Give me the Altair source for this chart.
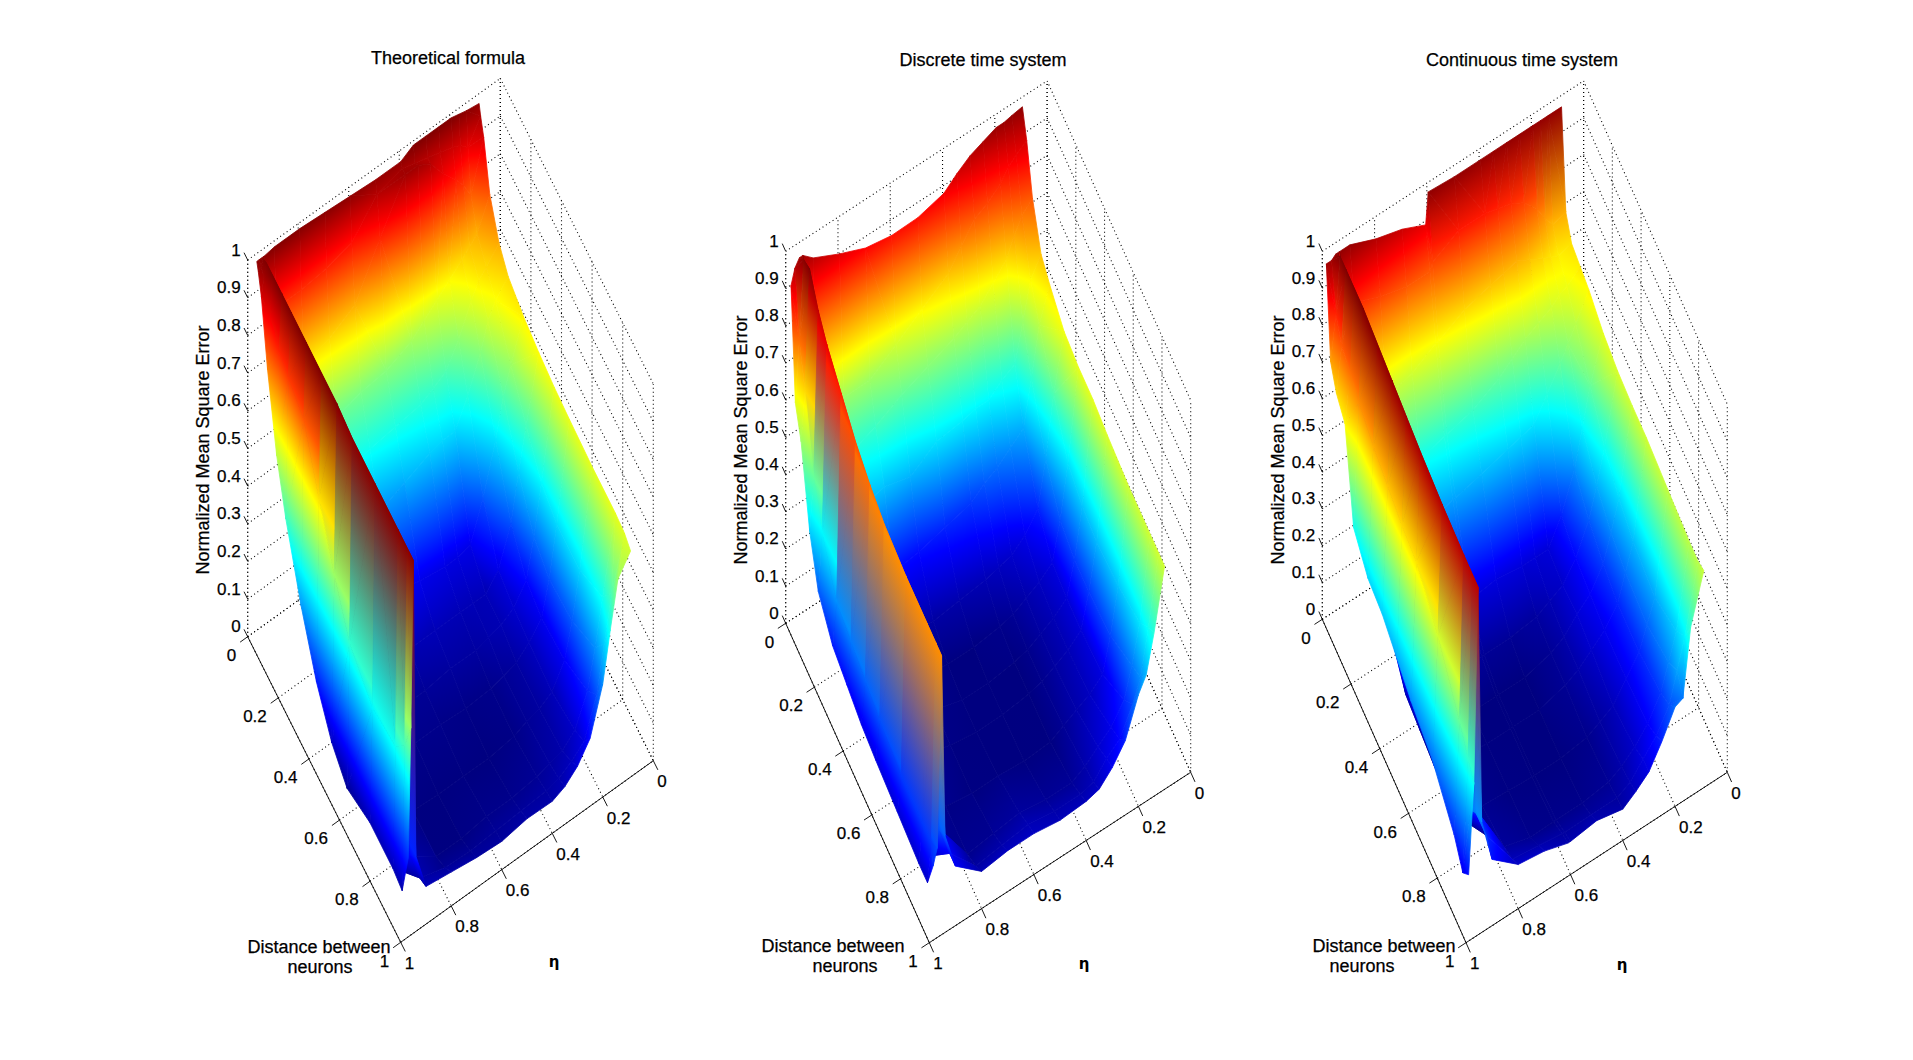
# Three 3D surfaces (jet coloured) projected by hand, since Vega-Lite has no surface mark
import numpy as np
import pandas as pd
import altair as alt

# each table has one list per eta column, with one value per distance row
theory_dist = [.01, .02, .04, .08, .14, .2, .3, .4, .5, .6, .75, .9, .96, 1]
theory_eta = [.09, .14, .17, .2, .25, .3, .35, .4, .5, .6, .7, .8, .9, .94, .95, .96, .97]
theory_z = [
    [.985, .96, .92, .8, .72, .68, .655, .64, .63, .625, .62, .62, .615, .6],
    [.99, .9, .79, .72, .68, .64, .55, .47, .4, .37, .37, .42, .48, .55],
    [.995, .92, .83, .7, .66, .6, .48, .36, .27, .24, .25, .3, .36, .43],
    [1, .93, .86, .68, .62, .53, .38, .24, .17, .15, .16, .2, .24, .3],
    [1, .94, .9, .65, .54, .44, .25, .14, .12, .11, .1, .12, .14, .18],
    [1, .95, .95, .62, .48, .37, .15, .1, .1, .08, .08, .09, .11, .13],
    [1, .96, .97, .59, .46, .37, .14, .1, .09, .07, .07, .08, .09, .1],
    [.98, .97, .97, .56, .44, .36, .14, .1, .08, .06, .055, .07, .08, .085],
    [.98, .95, .85, .53, .43, .33, .15, .1, .08, .055, .045, .06, .075, .087],
    [.985, .87, .72, .52, .42, .3, .17, .1, .07, .06, .045, .06, .07, .075],
    [.99, .85, .68, .5, .4, .3, .18, .1, .07, .06, .045, .05, .065, .08],
    [.995, .84, .66, .48, .38, .3, .18, .1, .07, .06, .05, .05, .07, .09],
    [.995, .84, .64, .46, .36, .28, .17, .11, .08, .07, .06, .1, .09, .1],
    [.99, .84, .7, .58, .45, .35, .22, .13, .09, .08, .07, .08, .17, .2],
    [.99, .995, 1, 1, 1, 1, 1, 1, 1, .99, .99, .99, .99, .99],
    [.99, .98, .97, .9, .85, .83, .8, .67, .55, .45, .4, .42, .47, .55],
    [.99, .97, .92, .76, .58, .46, .31, .19, .11, .07, .1, .1, .09, .21],
]

dist = [.01, .04, .08, .14, .2, .3, .4, .5, .6, .75, .9, .96, 1]

discrete_eta = [.1, .14, .17, .2, .25, .3, .35, .4, .5, .6, .7, .8, .9, .94, .953, .97, .985]
discrete_z = [
    [.985, .92, .8, .7, .67, .63, .62, .62, .61, .6, .6, .6, .6],
    [.98, .9, .77, .65, .58, .48, .38, .35, .34, .35, .38, .42, .44],
    [.975, .88, .73, .55, .45, .32, .24, .22, .22, .23, .28, .3, .34],
    [.975, .85, .68, .45, .33, .2, .14, .13, .13, .14, .2, .24, .3],
    [.96, .82, .64, .43, .3, .15, .11, .1, .1, .11, .15, .17, .2],
    [.945, .8, .6, .4, .27, .12, .09, .08, .08, .09, .12, .14, .15],
    [.92, .75, .58, .4, .25, .11, .07, .06, .06, .07, .09, .1, .115],
    [.89, .7, .56, .39, .22, .1, .06, .05, .05, .05, .07, .09, .105],
    [.87, .65, .53, .38, .2, .09, .05, .04, .04, .045, .07, .09, .1],
    [.868, .6, .5, .33, .18, .08, .05, .04, .04, .05, .08, .1, .11],
    [.88, .55, .46, .35, .17, .09, .06, .06, .05, .05, .07, .09, .11],
    [.91, .55, .43, .33, .18, .1, .07, .07, .07, .06, .06, .08, .1],
    [.945, .55, .4, .3, .18, .11, .08, .08, .08, .07, .17, .16, .16],
    [.97, .55, .4, .28, .17, .11, .09, .09, .09, .08, .12, .24, .26],
    [.97, .99, 1, .94, .9, .855, .81, .78, .76, .75, .75, .75, .75],
    [.95, .78, .68, .5, .4, .3, .28, .26, .24, .22, .22, .22, .24],
    [.91, .62, .55, .36, .25, .19, .17, .15, .14, .13, .12, .12, .2],
]

continuous_eta = [.09, .14, .17, .2, .25, .3, .35, .4, .5, .6, .61, .7, .8, .9, .94, .954, .97, .99]
continuous_z = [
    [.98, .72, .67, .66, .65, .62, .605, .6, .6, .59, .58, .58, .59],
    [.98, .71, .66, .63, .58, .5, .42, .37, .34, .32, .36, .4, .46],
    [.98, .74, .67, .62, .54, .4, .33, .29, .27, .26, .29, .32, .28],
    [.98, .78, .68, .6, .5, .3, .25, .22, .2, .2, .22, .24, .27],
    [.98, .82, .7, .58, .44, .2, .17, .16, .15, .15, .16, .18, .2],
    [.98, .84, .72, .56, .38, .13, .12, .13, .12, .1, .12, .14, .14],
    [.98, .85, .71, .53, .37, .13, .1, .09, .09, .08, .09, .1, .11],
    [.98, .86, .7, .5, .36, .13, .08, .07, .07, .06, .07, .08, .085],
    [.98, .86, .68, .46, .34, .14, .07, .05, .05, .05, .06, .08, .1],
    [.985, .82, .64, .44, .32, .13, .07, .05, .05, .05, .06, .08, .09],
    [.9, .8, .64, .44, .32, .13, .07, .05, .05, .05, .06, .08, .09],
    [.93, .8, .6, .42, .3, .14, .08, .05, .05, .055, .06, .09, .11],
    [.95, .82, .58, .42, .3, .15, .09, .06, .06, .06, .08, .1, .12],
    [.98, .85, .58, .42, .3, .17, .1, .09, .08, .08, .22, .21, .18],
    [.98, .9, .62, .44, .3, .28, .25, .21, .2, .14, .25, .29, .3],
    [.98, 1, 1, 1, 1, .99, .98, .97, .96, .95, .945, .945, .945],
    [.97, .85, .8, .78, .75, .72, .7, .68, .67, .6, .5, .45, .42],
    [.97, .73, .68, .65, .42, .37, .36, .33, .3, .27, .2, .15, .18],
]

z_ticks = [0, .1, .2, .3, .4, .5, .6, .7, .8, .9, 1]
xy_ticks = [0, .2, .4, .6, .8, 1]
tick_names = ["0", "0.2", "0.4", "0.6", "0.8", "1"]
z_names = ["0", "0.1", "0.2", "0.3", "0.4", "0.5", "0.6", "0.7", "0.8", "0.9", "1"]

# colour axis runs from the surface minimum to 1
color_min = .05
jet_knots = [0, .125, .375, .625, .875, 1]
jet_rgb = [(0, 0, 128), (0, 0, 255), (0, 255, 255), (255, 255, 0), (255, 0, 0), (128, 0, 0)]

# left corner (eta=1,d=0), bottom corner (eta=1,d=1), right corner (eta=0,d=1), height of z=1
panels = [
    dict(title="Theoretical formula", title_at=(448, 59), left=(247.7, 636.7), bottom=(400.7, 942.3),
         right=(653.3, 760.7), h=376.7, eta=theory_eta, dist=theory_dist, z=theory_z, ridge=14, wall=0,
         ylab=(204, 450), dist_at=[(319, 948), (320, 968)], eta_at=(554, 962)),
    dict(title="Discrete time system", title_at=(983, 61), left=(785.7, 623.3), bottom=(929.3, 942.7),
         right=(1190.7, 772.3), h=372, eta=discrete_eta, dist=dist, z=discrete_z, ridge=14, wall=0,
         ylab=(742, 440), dist_at=[(833, 947), (845, 967)], eta_at=(1084, 964)),
    dict(title="Continuous time system", title_at=(1522, 61), left=(1322.3, 619.3), bottom=(1466, 942.7),
         right=(1727.3, 772.3), h=368, eta=continuous_eta, dist=dist, z=continuous_z, ridge=15, wall=9,
         ylab=(1279, 440), dist_at=[(1384, 947), (1362, 967)], eta_at=(1622, 965)),
]

x_scale = alt.Scale(domain=[8, 1905])
y_scale = alt.Scale(domain=[1052, 8])
x_enc = alt.X("x:Q", scale=x_scale, axis=None)
y_enc = alt.Y("y:Q", scale=y_scale, axis=None)


def project(p, eta, d, z):
    lx, ly = p["left"]
    bx, by = p["bottom"]
    rx, ry = p["right"]
    u = 1 - eta
    return (lx + u * (rx - bx) + d * (bx - lx),
            ly + u * (ry - by) + d * (by - ly) - z * p["h"])


def jet(z):
    z = min(max((z - color_min) / (1 - color_min), 0), 1)
    rgb = [np.interp(z, jet_knots, [c[k] for c in jet_rgb]) for k in range(3)]
    return "#%02x%02x%02x" % tuple(int(round(v)) for v in rgb)


def facet_fill(xs, ys, zs, blend):
    # linear gradient across the facet, in its bounding box coordinates
    xs, ys, zs = np.array(xs), np.array(ys), np.array(zs)
    w, h = xs.max() - xs.min(), ys.max() - ys.min()
    if w < .05 or h < .05 or zs.max() - zs.min() < .002:
        return jet(zs.mean())
    u, v = (xs - xs.min()) / w, (ys - ys.min()) / h
    a, b, c = np.linalg.lstsq(np.c_[u, v, np.ones(len(zs))], zs, rcond=None)[0]
    n = np.hypot(a, b)
    if n < 1e-6:
        return jet(zs.mean())
    gx, gy = a / n, b / n
    s = u * gx + v * gy
    s0, s1 = s.min(), s.max()
    z0, z1 = c + n * s0, c + n * s1
    stops = [(0, z0), (1, z1)]
    # steep facets blend straight between their corner colours, the others follow the colour map
    inner = zs if blend else [color_min + k * (1 - color_min) for k in jet_knots[1:-1]]
    for k in inner:
        if z0 < k < z1:
            stops.append(((k - z0) / (z1 - z0), k))
    stops.sort()
    return {"gradient": "linear", "x1": float(gx * s0), "y1": float(gy * s0),
            "x2": float(gx * s1), "y2": float(gy * s1),
            "stops": [{"offset": float(o), "color": jet(val)} for o, val in stops]}


def facet(p, eta, rows, table, corners, blend):
    pts = [project(p, eta[a], rows[b], table[a][b]) for a, b in corners]
    zs = [table[a][b] for a, b in corners]
    xs = [q[0] for q in pts]
    ys = [q[1] for q in pts]
    fill = facet_fill(xs, ys, zs, blend)
    df = pd.DataFrame({"x": xs + xs[:1], "y": ys + ys[:1], "k": range(len(xs) + 1)})
    return alt.Chart(df).mark_line(fill=fill, stroke=fill, strokeWidth=.8, strokeJoin="round").encode(
        x=x_enc, y=y_enc, order=alt.Order("k:Q"))


def seg(a, b, dash=None, width=.9):
    pts = pd.DataFrame({"x": [a[0], b[0]], "y": [a[1], b[1]]})
    kw = {"strokeDash": dash} if dash else {}
    return alt.Chart(pts).mark_line(color="black", strokeWidth=width, **kw).encode(x=x_enc, y=y_enc)


def text_layer(rows, size=17, align="center", angle=0):
    return alt.Chart(pd.DataFrame(rows)).mark_text(
        font="Liberation Sans", fontSize=size, align=align, baseline="middle", angle=angle,
        color="black", stroke="black", strokeWidth=.25).encode(x=x_enc, y=y_enc, text="t:N")


layers = []
for p in panels:
    dots = [1, 3]
    # back walls and floor
    for z in z_ticks:
        layers.append(seg(project(p, 1, 0, z), project(p, 0, 0, z), dots, 1.1))
        layers.append(seg(project(p, 0, 0, z), project(p, 0, 1, z), dots, 1.1))
    for t in xy_ticks:
        layers.append(seg(project(p, t, 0, 0), project(p, t, 0, 1), dots, 1.1))
        layers.append(seg(project(p, 0, t, 0), project(p, 0, t, 1), dots, 1.1))
        layers.append(seg(project(p, t, 0, 0), project(p, t, 1, 0), dots, 1.1))
        layers.append(seg(project(p, 0, t, 0), project(p, 1, t, 0), dots, 1.1))
    layers.append(seg(project(p, 1, 0, 0), project(p, 1, 0, 1), dots, 1.1))

    # surface, far facets first
    eta, rows, table = p["eta"], p["dist"], p["z"]
    for i in range(len(eta) - 1):
        for j in range(len(rows) - 1):
            blend = p["ridge"] - 1 <= i <= p["ridge"] or (j == 0 and i < p["wall"])
            z00, z10 = table[i][j], table[i + 1][j]
            z11, z01 = table[i + 1][j + 1], table[i][j + 1]
            if not blend and abs(z00 + z11 - z10 - z01) < .06:
                layers.append(facet(p, eta, rows, table, [(i, j), (i + 1, j), (i + 1, j + 1), (i, j + 1)], blend))
            elif abs(z00 - z11) < abs(z10 - z01):
                layers.append(facet(p, eta, rows, table, [(i, j), (i + 1, j), (i + 1, j + 1)], blend))
                layers.append(facet(p, eta, rows, table, [(i, j), (i + 1, j + 1), (i, j + 1)], blend))
            else:
                layers.append(facet(p, eta, rows, table, [(i, j), (i + 1, j), (i, j + 1)], blend))
                layers.append(facet(p, eta, rows, table, [(i + 1, j), (i + 1, j + 1), (i, j + 1)], blend))

    # axes on top
    layers.append(seg(project(p, 1, 0, 0), project(p, 1, 1, 0)))
    layers.append(seg(project(p, 1, 1, 0), project(p, 0, 1, 0)))
    z_rows, d_rows, e_rows = [], [], []
    for z, name in zip(z_ticks, z_names):
        a = project(p, 1, 0, z)
        layers.append(seg(a, project(p, 1, -.024, z)))
        z_rows.append({"x": a[0] - 7, "y": a[1] - 9.5, "t": name})
    for t, name in zip(xy_ticks, tick_names):
        a = project(p, 1, t, 0)
        layers.append(seg(a, project(p, 1.03, t, 0)))
        d_rows.append({"x": a[0] - 11.5, "y": a[1] + 19.3, "t": name})
        b = project(p, t, 1, 0)
        layers.append(seg(b, project(p, t, 1.03, 0)))
        e_rows.append({"x": b[0] + 4, "y": b[1] + 21.5, "t": name})
    layers.append(text_layer(z_rows, align="right"))
    layers.append(text_layer(d_rows, align="right"))
    layers.append(text_layer(e_rows, align="left"))
    layers.append(text_layer([{"x": p["title_at"][0], "y": p["title_at"][1], "t": p["title"]}], size=18))
    layers.append(text_layer([{"x": p["ylab"][0], "y": p["ylab"][1], "t": "Normalized Mean Square Error"}],
                             size=18, angle=270))
    layers.append(text_layer([
        {"x": p["dist_at"][0][0], "y": p["dist_at"][0][1], "t": "Distance between"},
        {"x": p["dist_at"][1][0], "y": p["dist_at"][1][1], "t": "neurons"}], size=18))
    layers.append(alt.Chart(pd.DataFrame([{"x": p["eta_at"][0], "y": p["eta_at"][1], "t": "η"}])).mark_text(
        font="DejaVu Sans", fontSize=15, fontWeight="bold", color="black").encode(x=x_enc, y=y_enc, text="t:N"))

chart = alt.layer(*layers).properties(
    width=1897, height=1044, padding=0,
    autosize=alt.AutoSizeParams(type="none"),
).configure_view(stroke=None)

chart.save("out.html", embed_options={"renderer": "svg", "actions": False})
